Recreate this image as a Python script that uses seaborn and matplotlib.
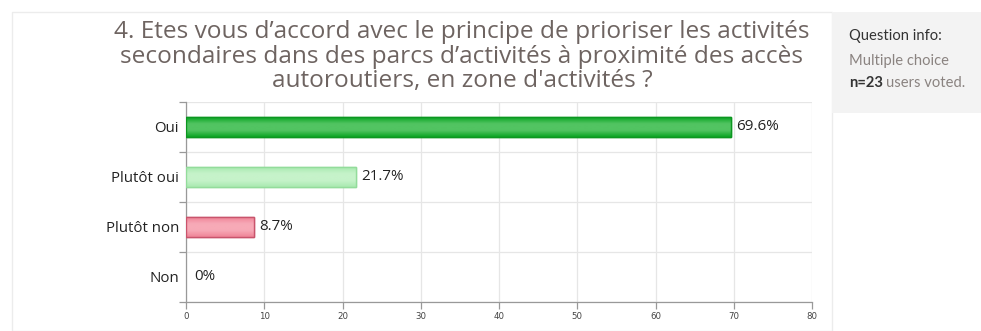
import numpy as np
import pandas as pd
import matplotlib
matplotlib.use("Agg")
import matplotlib.pyplot as plt
from matplotlib.patches import Rectangle
from matplotlib.colors import LinearSegmentedColormap
import seaborn as sns

# Survey results
categories = ["Oui", "Plutôt oui", "Plutôt non", "Non"]
percentages = [69.6, 21.7, 8.7, 0.0]
value_labels = ["69.6%", "21.7%", "8.7%", "0%"]
x_ticks = [0, 10, 20, 30, 40, 50, 60, 70, 80]

title_lines = [
    "4. Etes vous d’accord avec le principe de prioriser les activités",
    "secondaires dans des parcs d’activités à proximité des accès",
    "autoroutiers, en zone d'activités ?",
]

# bar styling: (edge, dark fill, light highlight)
bar_styles = [
    ("#0c9620", "#0aa523", "#52c462"),
    ("#93dc9b", "#a9e9b0", "#c6f3ca"),
    ("#c9546c", "#ef8497", "#f7aab7"),
    ("#cccccc", "#dddddd", "#eeeeee"),
]

sns.set_theme(style="white")
plt.rcParams["font.family"] = ["Open Sans", "DejaVu Sans"]

W, H = 981, 331
fig = plt.figure(figsize=(W / 100, H / 100), dpi=100)
fig.patch.set_facecolor("white")

def fx(px):
    return px / W

def fy(py):
    return 1 - py / H

# card outline and info panel
fig.patches.append(Rectangle((fx(12), fy(331)), fx(820), fy(12) - fy(331),
                             transform=fig.transFigure, facecolor="white",
                             edgecolor="#ececec", lw=1.0, zorder=-2))
fig.patches.append(Rectangle((fx(832), fy(113)), fx(981 - 832), fy(12) - fy(113),
                             transform=fig.transFigure, facecolor="#f3f3f3",
                             edgecolor="none", zorder=-2))

for k, line in enumerate(title_lines):
    fig.text(fx(462), fy(38 + 24.6 * k), line, ha="center", va="baseline",
             fontsize=17.6, color="#6e6461", family=["Open Sans", "DejaVu Sans"])

info_font = ["Lato", "DejaVu Sans"]
fig.text(fx(849), fy(36), "Question info:", ha="left", va="center",
         fontsize=10.6, color="#333333", family=info_font)
fig.text(fx(849), fy(61), "Multiple choice", ha="left", va="center",
         fontsize=10.6, color="#8a8380", family=info_font)
t1 = fig.text(fx(849), fy(83), "n=23", ha="left", va="center", fontsize=10.6,
              color="#333333", weight="bold", family=info_font)
fig.canvas.draw()
bb = t1.get_window_extent()
fig.text(bb.x1 / W + fx(3), fy(83), "users voted.", ha="left", va="center",
         fontsize=10.6, color="#8a8380", family=info_font)

ax = fig.add_axes([fx(186), fy(302), fx(812 - 186), fy(102) - fy(302)])
ax.set_zorder(1)
df = pd.DataFrame({"cat": categories, "pct": percentages})
sns.barplot(data=df, y="cat", x="pct", orient="h", width=0.4, ax=ax,
            palette=[s[1] for s in bar_styles], hue="cat", legend=False,
            saturation=1, zorder=3)

# vertical gradient inside each bar
for patch, (edge, dark, light) in zip(list(ax.patches), bar_styles):
    patch.set_edgecolor(edge)
    patch.set_linewidth(1.0)
    x0, y0 = patch.get_x(), patch.get_y()
    w, h = patch.get_width(), patch.get_height()
    if w <= 0:
        patch.set_visible(False)
        continue
    cmap = LinearSegmentedColormap.from_list("g", [dark, light, light, dark])
    grad = np.linspace(0, 1, 64).reshape(-1, 1)
    im = ax.imshow(grad, cmap=cmap, aspect="auto", extent=(x0, x0 + w, y0 + h, y0),
                   zorder=3.5, interpolation="bicubic")
    im.set_clip_path(patch)
    ax.add_patch(Rectangle((x0, y0), w, h, facecolor="none", edgecolor=edge,
                           lw=1.0, zorder=4))
ax.set_xlim(0, 80)
ax.set_ylim(3.5, -0.5)

for i, (v, lab) in enumerate(zip(percentages, value_labels)):
    ax.annotate(lab, (v, i), xytext=(4 if v > 0 else 6, 0), textcoords="offset points",
                ha="left", va="center", fontsize=10.9, color="#222222", zorder=5)

ax.set_xticks(x_ticks)
ax.set_xticklabels([str(t) for t in x_ticks], fontsize=6.2, color="#444444",
                   family=["DejaVu Sans"])
ax.set_yticks(range(len(categories)))
ax.set_yticklabels(categories, fontsize=10.8, color="#222222")
ax.set_yticks([-0.5, 0.5, 1.5, 2.5, 3.5], minor=True)
ax.tick_params(axis="y", which="major", length=0, pad=5)
ax.tick_params(axis="y", which="minor", length=5, color="#999999", width=0.9, left=True)
ax.tick_params(axis="x", which="major", length=5, color="#999999", width=0.9,
               bottom=True, pad=2)
ax.set_xlabel("")
ax.set_ylabel("")

ax.grid(axis="x", which="major", color="#e6e6e6", lw=0.9, zorder=0)
ax.grid(axis="y", which="minor", color="#e6e6e6", lw=0.9, zorder=0)
ax.grid(axis="y", which="major", visible=False)
ax.set_axisbelow(True)

for side in ["top", "right"]:
    ax.spines[side].set_visible(False)
for side in ["left", "bottom"]:
    ax.spines[side].set_color("#999999")
    ax.spines[side].set_linewidth(0.9)
ax.set_facecolor("none")

fig.savefig("out.png", dpi=100, facecolor="white")
